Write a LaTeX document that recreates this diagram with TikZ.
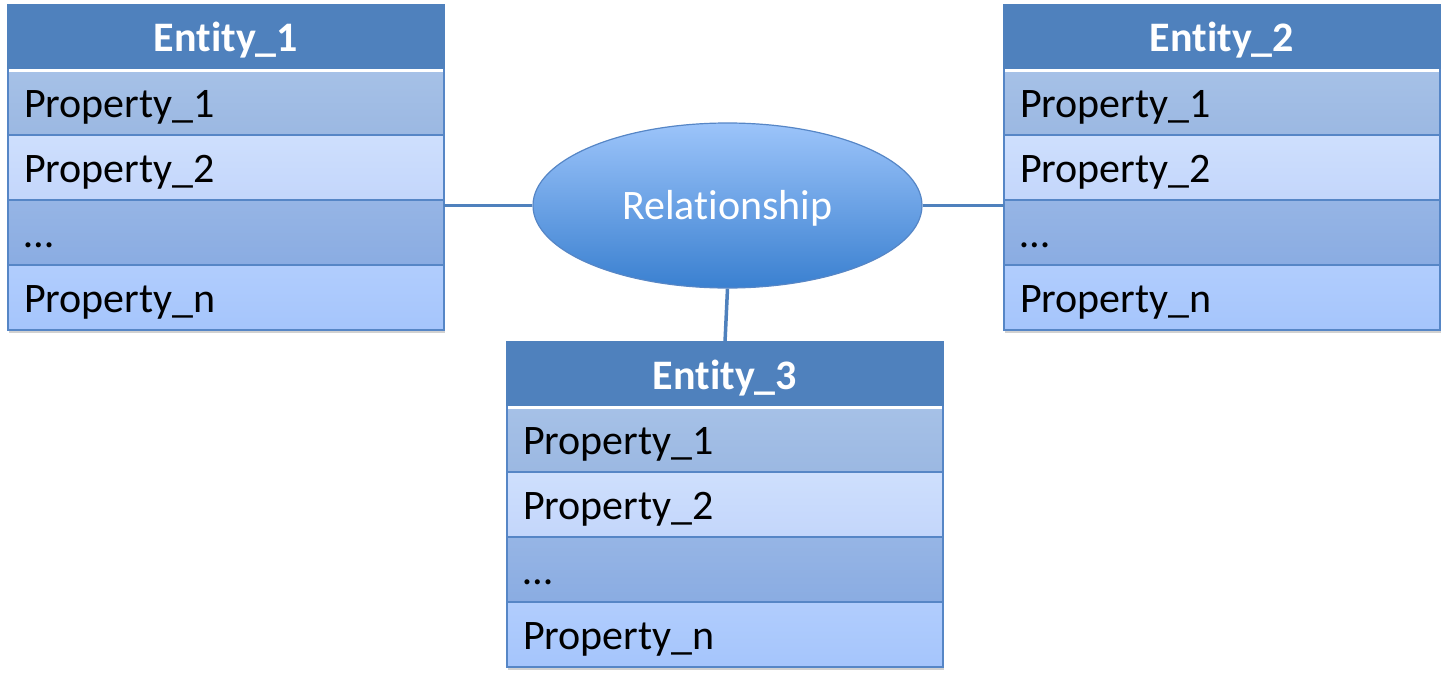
\documentclass[tikz,border=0pt]{standalone}
\usepackage{fontspec}
\setmainfont[Ligatures=NoCommon, RawFeature={-liga;-clig;-calt}]{Carlito}
\usetikzlibrary{positioning,shapes.geometric,backgrounds}

\definecolor{HeadBlue}{RGB}{79,129,189}
\definecolor{EdgeBlue}{RGB}{86,134,198}

\tikzset{
  cell/.style={draw=EdgeBlue, line width=1.2pt, minimum width=436pt, minimum height=65pt,
    inner sep=0pt, outer sep=0pt, text width=404pt, align=left, text height=30pt, text depth=1pt,
    font=\fontsize{42}{50}\selectfont},
  headcell/.style={cell, fill=HeadBlue, draw=HeadBlue, text=white, align=center,
    font=\fontsize{42}{50}\selectfont\bfseries},
  link/.style={HeadBlue, line width=3.5pt},
}

\newcommand\entitytable[4]{%
  \node[headcell, anchor=north west] (#1h) at (#2,#3) {#4};
  \node[cell, top color={rgb,255:red,166;green,193;blue,231}, bottom color={rgb,255:red,155;green,184;blue,226}, below=0pt of #1h] (#1a) {Property\_1};
  \node[cell, top color={rgb,255:red,206;green,223;blue,253}, bottom color={rgb,255:red,195;green,214;blue,251}, below=0pt of #1a] (#1b) {Property\_2};
  \node[cell, top color={rgb,255:red,150;green,181;blue,229}, bottom color={rgb,255:red,138;green,172;blue,226}, below=0pt of #1b] (#1c) {\dots};
  \node[cell, top color={rgb,255:red,177;green,205;blue,253}, bottom color={rgb,255:red,165;green,197;blue,252}, below=0pt of #1c] (#1d) {Property\_n};
  \draw[white, line width=3pt] ([xshift=1pt]#1h.south west) -- ([xshift=-1pt]#1h.south east);
  \begin{scope}[on background layer]
    \fill[black, opacity=.18] ([xshift=1pt,yshift=-3pt]#1h.north west) rectangle ([xshift=1pt,yshift=-3pt]#1d.south east);
  \end{scope}
}

\begin{document}
\begin{tikzpicture}[x=1pt,y=-1pt]
\useasboundingbox (0,0) rectangle (1447,685);

\entitytable{ea}{8}{5}{Entity\_1}
\entitytable{eb}{1004}{5}{Entity\_2}
\entitytable{ec}{507}{342}{Entity\_3}

\node[ellipse, draw=EdgeBlue, line width=1.2pt, minimum width=389pt, minimum height=165pt, inner sep=0pt,
  top color={rgb,255:red,156;green,196;blue,250}, middle color={rgb,255:red,122;green,170;blue,236},
  bottom color={rgb,255:red,58;green,128;blue,208}, text=white, text height=28pt, text depth=1pt,
  font=\fontsize{42}{50}\selectfont] (rel) at (727.5,205.5) {Relationship};

\draw[link] (rel.west) -- (rel.west -| eac.east);
\draw[link] (rel.east) -- (rel.east -| ebc.west);
\draw[link] (rel.south) -- (ech.north);

\end{tikzpicture}
\end{document}
